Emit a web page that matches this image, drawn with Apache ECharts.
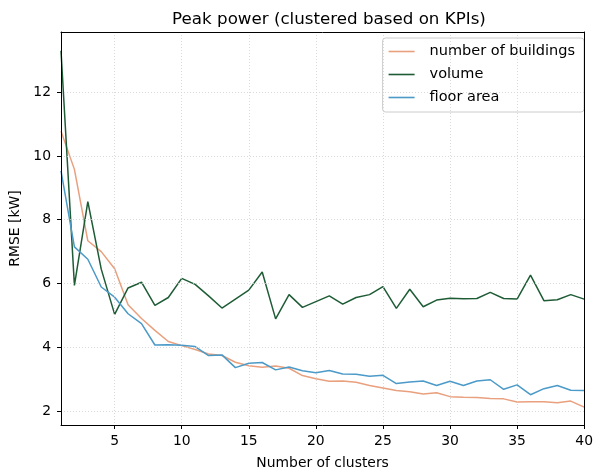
<!DOCTYPE html>
<html>
<head>
<meta charset="utf-8">
<script src="https://cdn.jsdelivr.net/npm/echarts@6/dist/echarts.min.js"></script>
<style>
  html, body { margin: 0; padding: 0; background: #fff; }
  #chart { width: 596px; height: 475px; }
</style>
</head>
<body>
<div id="chart"></div>
<script>
// Number of clusters on the x axis
const clusters = [1, 2, 3, 4, 5, 6, 7, 8, 9, 10,
                  11, 12, 13, 14, 15, 16, 17, 18, 19, 20,
                  21, 22, 23, 24, 25, 26, 27, 28, 29, 30,
                  31, 32, 33, 34, 35, 36, 37, 38, 39, 40];

// RMSE [kW] of peak power per clustering KPI
const numBuildings = [10.78, 9.58, 7.34, 7.00, 6.46, 5.33, 4.90, 4.53, 4.18, 4.05,
                      3.93, 3.79, 3.74, 3.53, 3.42, 3.37, 3.41, 3.34, 3.11, 3.01,
                      2.93, 2.94, 2.90, 2.80, 2.72, 2.64, 2.60, 2.53, 2.57, 2.45,
                      2.43, 2.42, 2.39, 2.38, 2.28, 2.29, 2.29, 2.26, 2.31, 2.12];

const volume = [13.30, 5.94, 8.57, 6.45, 5.03, 5.86, 6.04, 5.31, 5.56, 6.16,
                5.97, 5.61, 5.23, 5.51, 5.79, 6.36, 4.89, 5.65, 5.25, 5.43,
                5.61, 5.35, 5.56, 5.65, 5.90, 5.22, 5.82, 5.27, 5.48, 5.54,
                5.52, 5.53, 5.72, 5.53, 5.51, 6.26, 5.46, 5.49, 5.65, 5.51];

const floorArea = [9.53, 7.15, 6.76, 5.89, 5.57, 5.05, 4.74, 4.07, 4.08, 4.06,
                   4.02, 3.74, 3.76, 3.36, 3.50, 3.52, 3.29, 3.38, 3.26, 3.20,
                   3.27, 3.16, 3.15, 3.09, 3.12, 2.86, 2.91, 2.94, 2.80, 2.93,
                   2.80, 2.94, 2.98, 2.68, 2.82, 2.51, 2.70, 2.80, 2.65, 2.64];

// Tick positions
const xTicks = [5, 10, 15, 20, 25, 30, 35, 40];
const yTicks = [2, 4, 6, 8, 10, 12];

const FONT = 'DejaVu Sans';
const TICK_SIZE = 13.9;
const pairs = arr => clusters.map((c, i) => [c, arr[i]]);

const X_MIN = 1, X_MAX = 40, Y_MIN = 1.56, Y_MAX = 13.89;

const chart = echarts.init(document.getElementById('chart'), null, { renderer: 'canvas' });

const gridLine = { show: true, lineStyle: { color: '#d0d0d0', type: [1, 2], width: 0.8 } };
const frameLine = { show: true, onZero: false, lineStyle: { color: '#000', width: 1 } };

// Top and right axes only draw the frame, above the dotted grid lines
const frameAxis = (type, pos, min, max) => ({
  type: 'value', position: pos, min, max, z: 5,
  axisLine: frameLine, axisTick: { show: false }, axisLabel: { show: false }, splitLine: { show: false }
});

chart.setOption({
  animation: false,
  backgroundColor: '#fff',
  title: {
    text: 'Peak power (clustered based on KPIs)',
    left: 324, top: 6, textAlign: 'center',
    textStyle: { fontFamily: FONT, fontSize: 16.7, fontWeight: 'normal', color: '#000' }
  },
  grid: { left: 61, right: 8, top: 32, bottom: 48 },
  legend: {
    orient: 'vertical', right: 12, top: 38,
    padding: [6, 9, 7, 6], itemGap: 8, itemWidth: 26, itemHeight: 1.6, icon: 'rect',
    backgroundColor: '#fff', borderColor: '#cccccc', borderWidth: 1, borderRadius: 3,
    textStyle: { fontFamily: FONT, fontSize: 14.5, color: '#000', padding: [0, 0, 0, 10] },
    data: ['number of buildings', 'volume', 'floor area']
  },
  xAxis: [{
    type: 'value', min: X_MIN, max: X_MAX, position: 'bottom', z: 5,
    name: 'Number of clusters', nameLocation: 'middle', nameGap: 31,
    nameTextStyle: { fontFamily: FONT, fontSize: TICK_SIZE, color: '#000' },
    axisLine: frameLine,
    axisTick: { show: true, length: 4, inside: false, customValues: xTicks, lineStyle: { color: '#000' } },
    axisLabel: { customValues: xTicks, fontFamily: FONT, fontSize: TICK_SIZE, color: '#000', margin: 9 },
    splitLine: gridLine
  }, frameAxis('value', 'top', X_MIN, X_MAX)],
  yAxis: [{
    type: 'value', min: Y_MIN, max: Y_MAX, position: 'left', z: 5,
    name: 'RMSE [kW]', nameLocation: 'middle', nameGap: 39, nameRotate: 90,
    nameTextStyle: { fontFamily: FONT, fontSize: TICK_SIZE, color: '#000' },
    axisLine: frameLine,
    axisTick: { show: true, length: 4, inside: false, customValues: yTicks, lineStyle: { color: '#000' } },
    axisLabel: { customValues: yTicks, fontFamily: FONT, fontSize: TICK_SIZE, color: '#000', margin: 10 },
    splitLine: gridLine
  }, frameAxis('value', 'right', Y_MIN, Y_MAX)],
  series: [
    { name: 'number of buildings', type: 'line', data: pairs(numBuildings),
      symbol: 'none', color: '#e9a07e', lineStyle: { width: 1.5 } },
    { name: 'volume', type: 'line', data: pairs(volume),
      symbol: 'none', color: '#1e5c36', lineStyle: { width: 1.5 } },
    { name: 'floor area', type: 'line', data: pairs(floorArea),
      symbol: 'none', color: '#4b9ac8', lineStyle: { width: 1.5 } }
  ]
});
</script>
</body>
</html>
